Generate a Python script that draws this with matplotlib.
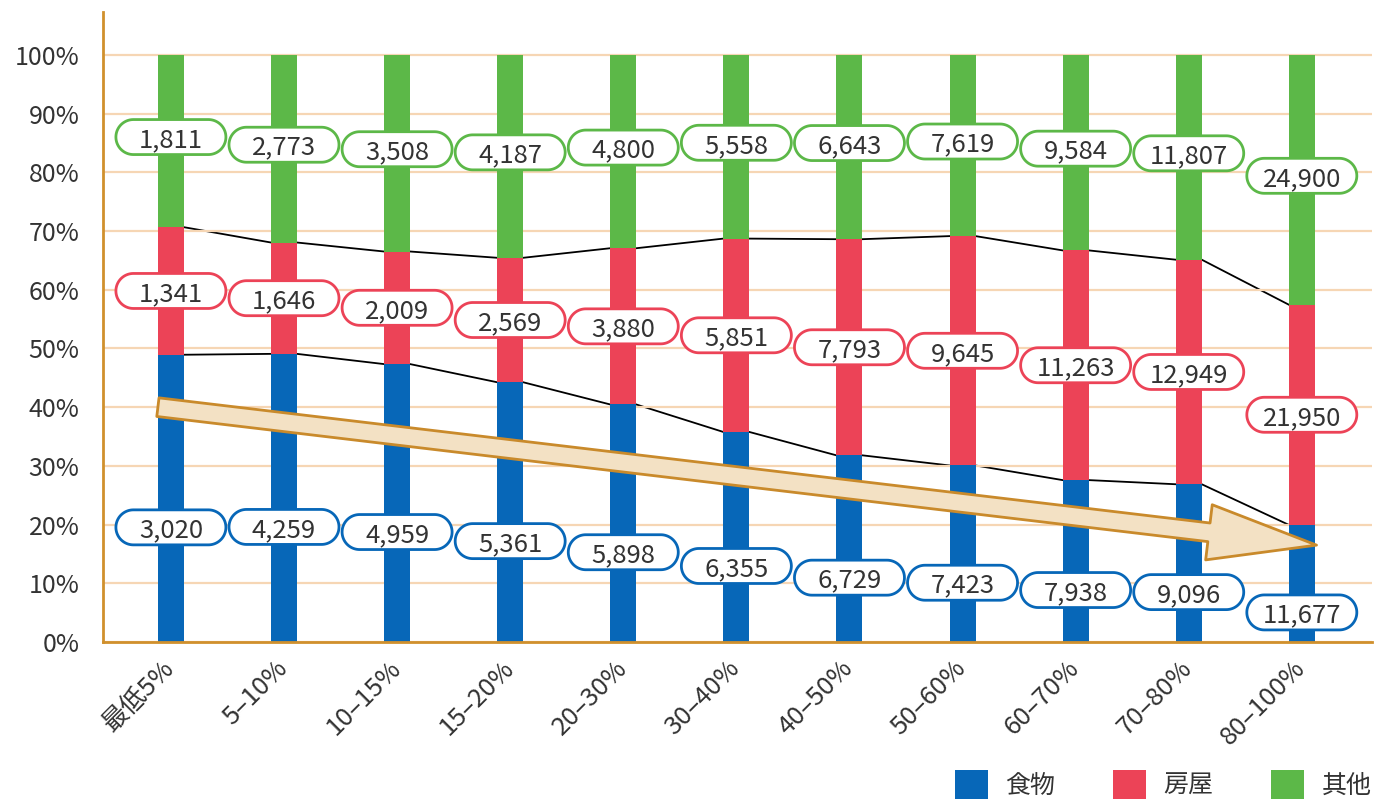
import matplotlib
matplotlib.use("Agg")
import matplotlib.pyplot as plt
import matplotlib.transforms as mtransforms
import numpy as np
from matplotlib.patches import FancyArrowPatch, Patch, Polygon

plt.rcParams["font.family"] = ["Noto Sans CJK JP", "DejaVu Sans"]

# Household spending by income bracket
brackets = ["最低5%", "5–10%", "10–15%", "15–20%", "20–30%", "30–40%",
            "40–50%", "50–60%", "60–70%", "70–80%", "80–100%"]
food = [3020, 4259, 4959, 5361, 5898, 6355, 6729, 7423, 7938, 9096, 11677]
housing = [1341, 1646, 2009, 2569, 3880, 5851, 7793, 9645, 11263, 12949, 21950]
other = [1811, 2773, 3508, 4187, 4800, 5558, 6643, 7619, 9584, 11807, 24900]
series_names = ["食物", "房屋", "其他"]
series_colors = ["#0767b8", "#ec4357", "#5cb848"]

values = np.array([food, housing, other], dtype=float)
pct = values / values.sum(axis=0) * 100
bottoms = np.vstack([np.zeros(len(brackets)), np.cumsum(pct, axis=0)[:-1]])

fig = plt.figure(figsize=(13.74, 8.05), dpi=100)
ax = fig.add_axes([0.075, 0.2025, 0.9235, 0.7825])

x = np.arange(len(brackets))
width = 0.23
for k in range(3):
    ax.bar(x, pct[k], width, bottom=bottoms[k], color=series_colors[k],
           zorder=2)

# lines joining the segment boundaries of neighbouring bars
for level in (bottoms[1], bottoms[2]):
    for i in range(len(x) - 1):
        ax.plot([x[i] + width / 2, x[i + 1] - width / 2],
                [level[i], level[i + 1]], color="black", lw=1.3, zorder=1)

ax.set_xlim(-0.6, 10.62)
ax.set_ylim(0, 107.3)
ax.set_yticks(np.arange(0, 101, 10))
ax.set_yticklabels(["%d%%" % v for v in range(0, 101, 10)], fontsize=18,
                   color="#333333")
ax.set_xticks(x)
ax.set_xticklabels(brackets, fontsize=18.5, color="#333333", rotation=45,
                   ha="right", va="center", rotation_mode="anchor")
shift = mtransforms.ScaledTranslation(0.09, 0, fig.dpi_scale_trans)
for lab in ax.get_xticklabels():
    lab.set_transform(lab.get_transform() + shift)
ax.tick_params(axis="y", length=0, pad=17)
ax.tick_params(axis="x", length=0, pad=16)
ax.grid(axis="y", color="#f6d6b4", lw=1.6, zorder=0)
for side in ("top", "right"):
    ax.spines[side].set_visible(False)
for side in ("left", "bottom"):
    ax.spines[side].set_color("#d0902d")
    ax.spines[side].set_linewidth(2)

# big trend arrow
arrow = FancyArrowPatch((-0.115, 40.0), (10.13, 16.5),
                        arrowstyle="simple,head_length=78,head_width=40,tail_width=13.5",
                        mutation_scale=1, shrinkA=0, shrinkB=0,
                        facecolor="#f3e1c4", edgecolor="#c98a2b", lw=2,
                        zorder=3)
ax.add_patch(arrow)

# pill outline in inches, centred on the origin
box_w, box_h = 1.1, 0.35
r = box_h / 2
t = np.linspace(0, np.pi, 40)
pill_xy = np.concatenate([
    np.column_stack([box_w / 2 - r + r * np.sin(t), r * np.cos(t)]),
    np.column_stack([-box_w / 2 + r - r * np.sin(t), -r * np.cos(t)]),
])

# value labels in pill-shaped boxes
label_shift = [-0.29, 0.0, 0.04]
for k in range(3):
    for i in range(len(x)):
        yc = bottoms[k][i] + pct[k][i] / 2
        dy = label_shift[k]
        tr = fig.dpi_scale_trans + mtransforms.ScaledTranslation(
            x[i], yc, ax.transData)
        pill = Polygon(pill_xy + [0, dy], closed=True, transform=tr,
                       facecolor="white", edgecolor=series_colors[k], lw=2,
                       zorder=4)
        ax.add_patch(pill)
        ax.text(0, dy, "{:,}".format(int(values[k][i])), transform=tr,
                ha="center", va="center_baseline", fontsize=18.5,
                color="#333333", zorder=5)

handles = [Patch(facecolor=c, edgecolor="none") for c in series_colors]
fig.legend(handles, series_names, loc="center right",
           bbox_to_anchor=(0.9985, 0.025), ncol=3, frameon=False,
           fontsize=18, handlelength=1.33, handleheight=1.4,
           handletextpad=0.7, columnspacing=2.3, borderpad=0,
           borderaxespad=0, labelcolor="#333333")

fig.savefig("out.png", dpi=100)
